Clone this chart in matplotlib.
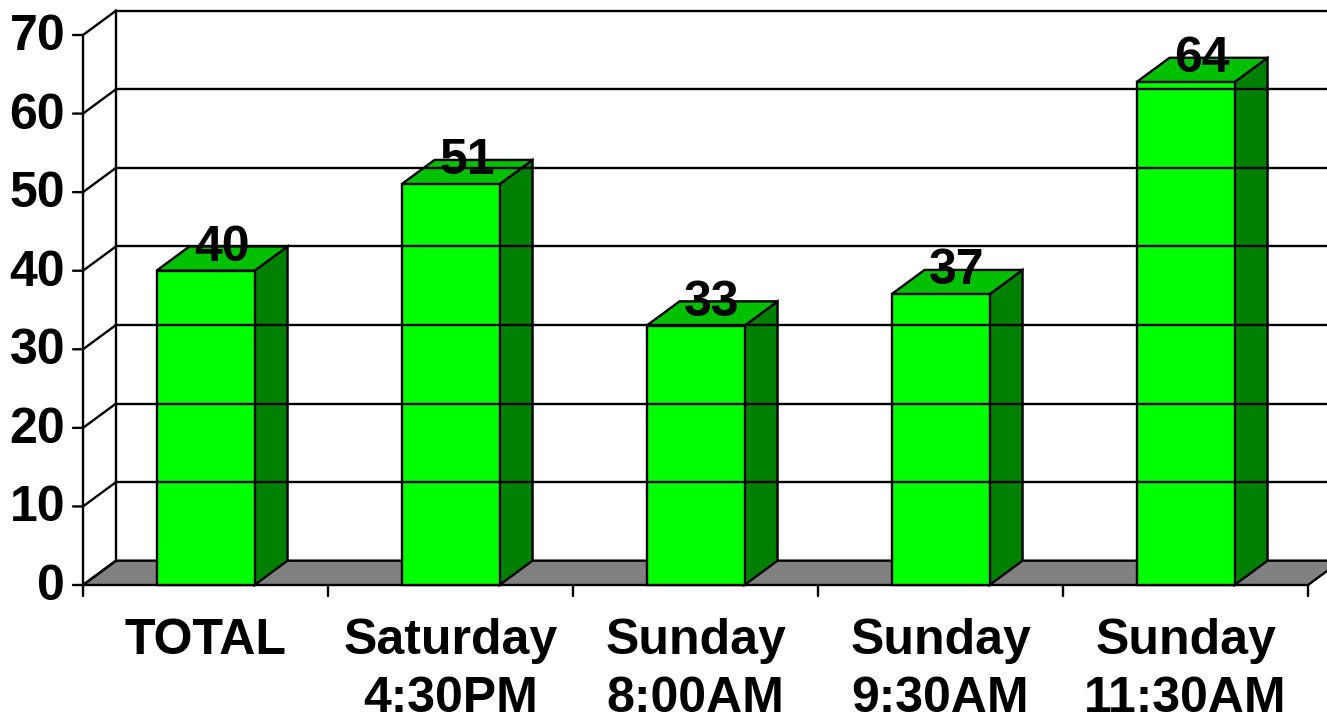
import numpy as np
import matplotlib
matplotlib.use('Agg')
import matplotlib.pyplot as plt
from matplotlib.patches import Polygon

# data
categories = ['TOTAL', 'Saturday\n4:30PM', 'Sunday\n8:00AM', 'Sunday\n9:30AM', 'Sunday\n11:30AM']
values = [40, 51, 33, 37, 64]
y_ticks = [0, 10, 20, 30, 40, 50, 60, 70]

plt.rcParams['font.family'] = ['Liberation Sans', 'DejaVu Sans']
plt.rcParams['font.weight'] = 'bold'

W, H = 1327, 721
fig = plt.figure(figsize=(W / 100, H / 100), dpi=100)
# front plane: x from 83px to 1308px, y=0 at 585px, y=70 at 35px
ax = fig.add_axes([83 / W, 136 / H, 1225 / W, 550 / H])
ax.set_xlim(-0.5, len(categories) - 0.5)
ax.set_ylim(0, 70)
ax.axis('off')

# 3d depth offset in data units
dx, dy = 0.135, 3.1
bw = 0.2  # half bar width
lw = 1.7
fs = 36
x0, x1 = -0.5, len(categories) - 0.5
ymax = y_ticks[-1]

# back wall gridlines + side wall diagonals
for v in y_ticks:
    if v > 0:
        ax.plot([x0 + dx, x1 + dx + 0.2], [v + dy, v + dy], color='black', lw=lw, clip_on=False)
    ax.plot([x0, x0 + dx], [v, v + dy], color='black', lw=lw, clip_on=False)
    ax.annotate(str(v), (x0, v), xytext=(-18, -2), textcoords='offset pixels',
                ha='right', va='center', fontsize=fs, fontweight='bold', annotation_clip=False)
    ax.annotate('', (x0, v), xytext=(-10, 0), textcoords='offset pixels',
                arrowprops=dict(arrowstyle='-', color='black', lw=lw, shrinkA=0, shrinkB=0),
                annotation_clip=False)
ax.plot([x0 + dx, x0 + dx], [dy, ymax + dy], color='black', lw=lw, clip_on=False)
ax.plot([x0, x0], [0, ymax], color='black', lw=lw, clip_on=False)

# floor
floor = Polygon([(x0, 0), (x1, 0), (x1 + dx, dy), (x0 + dx, dy)], closed=True,
                facecolor='#808080', edgecolor='black', lw=lw, clip_on=False)
ax.add_patch(floor)

# category ticks
for b in np.arange(x0, x1 + 0.01, 1.0):
    ax.annotate('', (b, 0), xytext=(0, -11), textcoords='offset pixels',
                arrowprops=dict(arrowstyle='-', color='black', lw=lw, shrinkA=0, shrinkB=0),
                annotation_clip=False)

# bars
for i, v in enumerate(values):
    l, r = i - bw, i + bw
    front = Polygon([(l, 0), (r, 0), (r, v), (l, v)], closed=True,
                    facecolor='#00FF00', edgecolor='black', lw=lw, clip_on=False)
    side = Polygon([(r, 0), (r + dx, dy), (r + dx, v + dy), (r, v)], closed=True,
                   facecolor='#008000', edgecolor='black', lw=lw, clip_on=False)
    top = Polygon([(l, v), (r, v), (r + dx, v + dy), (l + dx, v + dy)], closed=True,
                  facecolor='#00C000', edgecolor='black', lw=lw, clip_on=False)
    ax.add_patch(side)
    ax.add_patch(top)
    ax.add_patch(front)
    ax.text(i + dx / 2, v + dy / 2 - 0.3, str(v), ha='center', va='baseline',
            fontsize=fs, fontweight='bold', clip_on=False)

    # category label, one text per line
    lines = categories[i].split('\n')
    ax.annotate(lines[0], (i, 0), xytext=(0, -33), textcoords='offset pixels',
                ha='center', va='top', fontsize=fs, fontweight='bold',
                annotation_clip=False)
    if len(lines) > 1:
        ax.annotate(lines[1], (i, 0), xytext=(0, -127), textcoords='offset pixels',
                    ha='center', va='baseline', fontsize=fs, fontweight='bold',
                    annotation_clip=False)

fig.savefig('out.png', dpi=100)
